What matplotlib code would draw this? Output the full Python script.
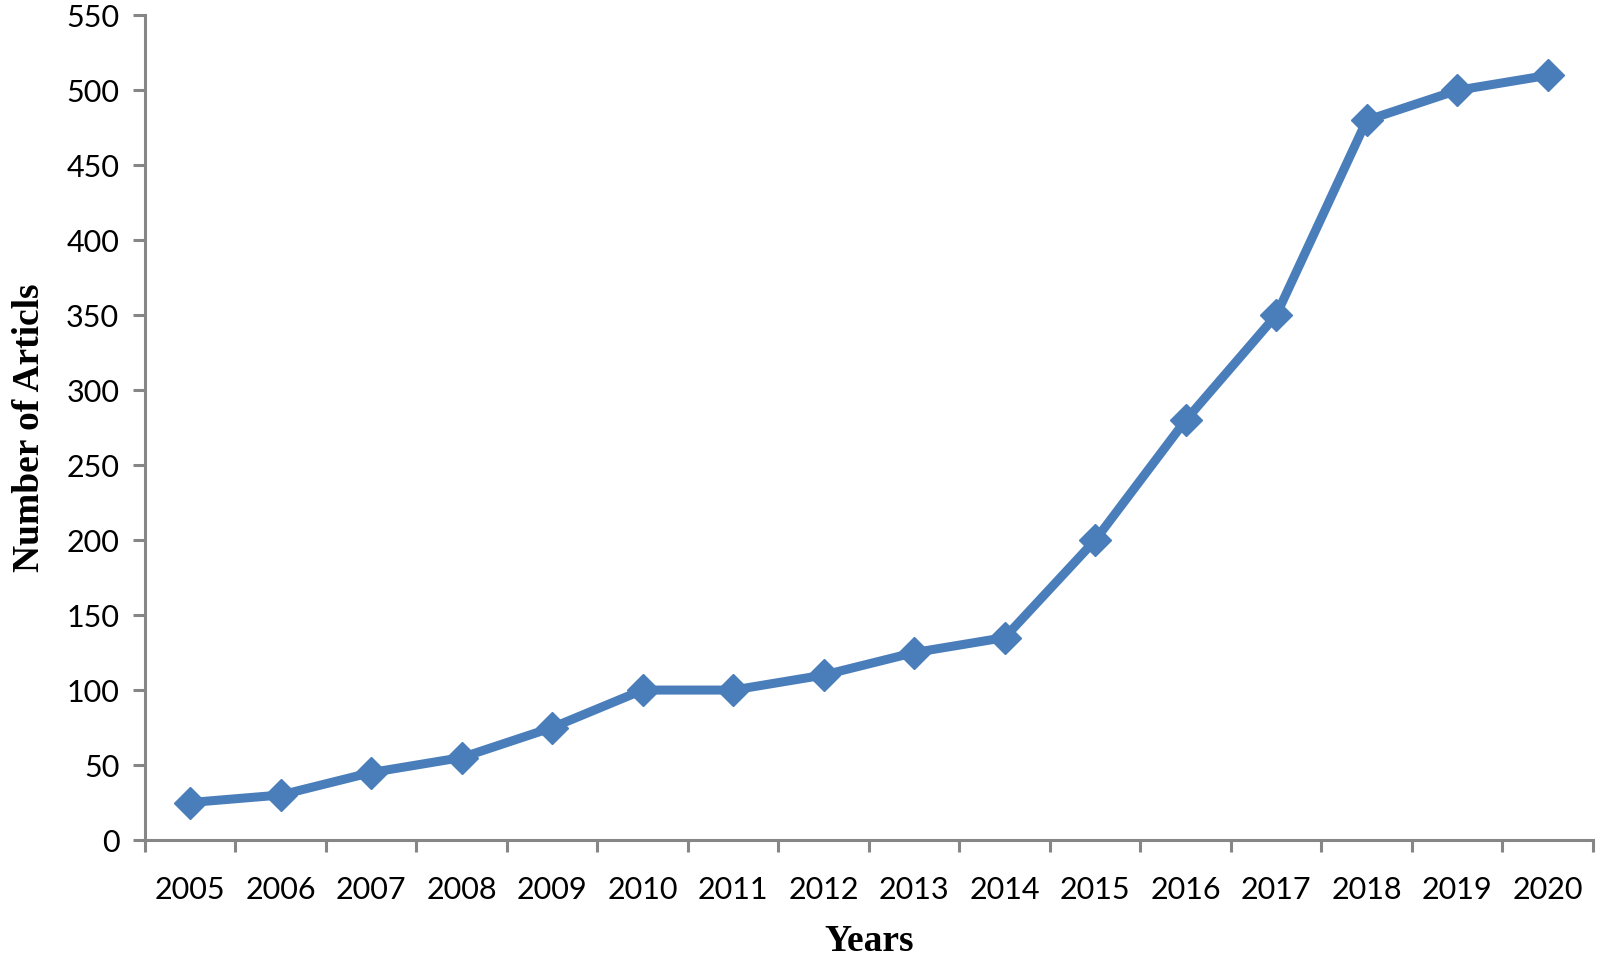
import numpy as np
import matplotlib
matplotlib.use("Agg")
import matplotlib.pyplot as plt

# données
years = ["2005", "2006", "2007", "2008", "2009", "2010", "2011", "2012",
         "2013", "2014", "2015", "2016", "2017", "2018", "2019", "2020"]
articles = [25, 30, 45, 55, 75, 100, 100, 110, 125, 135, 200, 280, 350, 480, 500, 510]
yticks = np.arange(0, 551, 50)

blue = "#4a7ebb"
grey = "#868686"

plt.rcParams['font.family'] = ['Lato', 'DejaVu Sans']

fig = plt.figure(figsize=(16, 9.6), dpi=100)
ax = fig.add_axes([0.0906, 0.125, 0.905, 0.859])

x = np.arange(len(years))
ax.plot(x, articles, color=blue, linewidth=6.5, marker='D', markersize=16,
        markerfacecolor=blue, markeredgecolor=blue)

ax.set_xlim(-0.5, len(years) - 0.5)
ax.set_ylim(0, 550)
ax.set_yticks(yticks)
ax.set_yticklabels([str(v) for v in yticks])

# étiquettes au centre, graduations entre les catégories
ax.set_xticks(x)
ax.set_xticklabels(years)
ax.set_xticks(np.arange(-0.5, len(years)), minor=True)
ax.tick_params(axis='x', which='major', length=0, pad=26, labelsize=22)
ax.tick_params(axis='x', which='minor', length=8.5, width=2.2, color=grey, direction='out')
ax.tick_params(axis='y', length=8.5, width=2.2, color=grey, pad=10, labelsize=22)

for s in ['top', 'right']:
    ax.spines[s].set_visible(False)
for s in ['left', 'bottom']:
    ax.spines[s].set_color(grey)
    ax.spines[s].set_linewidth(2.2)

ax.set_xlabel("Years", family=['Liberation Serif'], fontweight='bold', fontsize=27, labelpad=14)
ax.set_ylabel("Number of Articls", family=['Liberation Serif'], fontweight='bold', fontsize=27, labelpad=14)

fig.savefig("out.png", dpi=100)
